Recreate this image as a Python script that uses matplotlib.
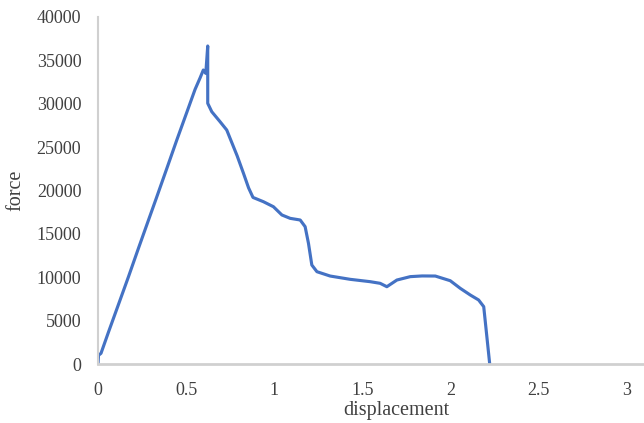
import numpy as np
import matplotlib.pyplot as plt

# ---------- data -----------------------------------------------------------
displacement = [0.0, 0.003, 0.017, 0.059, 0.116, 0.172, 0.229, 0.286, 0.330,
                0.390, 0.447, 0.504, 0.551, 0.580, 0.598, 0.612, 0.623, 0.623,
                0.646, 0.693, 0.731, 0.750, 0.790, 0.826, 0.855, 0.880,
                0.939, 0.996, 1.044, 1.091, 1.148, 1.176, 1.195, 1.214,
                1.243, 1.318, 1.432, 1.545, 1.602, 1.640, 1.697, 1.773,
                1.840, 1.915, 2.000, 2.057, 2.114, 2.161, 2.190, 2.224]
force = [0, 1000, 1230, 3650, 6850, 10000, 13300, 16550, 19050,
         22500, 25800, 29000, 31650, 33000, 33890, 33500, 36660, 30050,
         29080, 27930, 26970, 26010, 24000, 21980, 20300, 19200,
         18710, 18130, 17180, 16790, 16600, 15830, 13910, 11410,
         10640, 10140, 9760, 9490, 9300, 8910, 9680, 10070,
         10150, 10140, 9600, 8720, 7950, 7380, 6610, 0]

x_ticks = [0, 0.5, 1, 1.5, 2, 2.5, 3]
x_tick_labels = ["0", "0.5", "1", "1.5", "2", "2.5", "3"]
y_ticks = [0, 5000, 10000, 15000, 20000, 25000, 30000, 35000, 40000]

# ---------- plot -----------------------------------------------------------
plt.rcParams['font.family'] = ['Liberation Serif', 'DejaVu Serif']

fig = plt.figure(figsize=(6.44, 4.23), dpi=100)
ax = fig.add_axes([98 / 644, 1 - 364 / 423, 546 / 644, 347 / 423])

ax.plot(displacement, force, color='#4472C4', linewidth=2.25,
        solid_joinstyle='round', solid_capstyle='round')

ax.set_xlim(0, 3.1)
ax.set_ylim(0, 40000)
ax.set_xticks(x_ticks)
ax.set_xticklabels(x_tick_labels)
ax.set_yticks(y_ticks)
ax.tick_params(length=0, labelsize=13, colors='#404040', pad=12)
ax.tick_params(axis='x', pad=13)

for side in ['top', 'right']:
    ax.spines[side].set_visible(False)
ax.spines['left'].set_color('#d0d0d0')
ax.spines['left'].set_linewidth(1.5)
ax.spines['bottom'].set_color('#d0d0d0')
ax.spines['bottom'].set_linewidth(2)

ax.set_xlabel('displacement', fontsize=14.5, color='#404040')
ax.set_ylabel('force', fontsize=14.5, color='#404040')
ax.xaxis.set_label_coords((396 - 98) / 546, -37 / 347)
ax.yaxis.set_label_coords((25 - 98) / 546, 0.5)

fig.savefig('out.png', dpi=100)
